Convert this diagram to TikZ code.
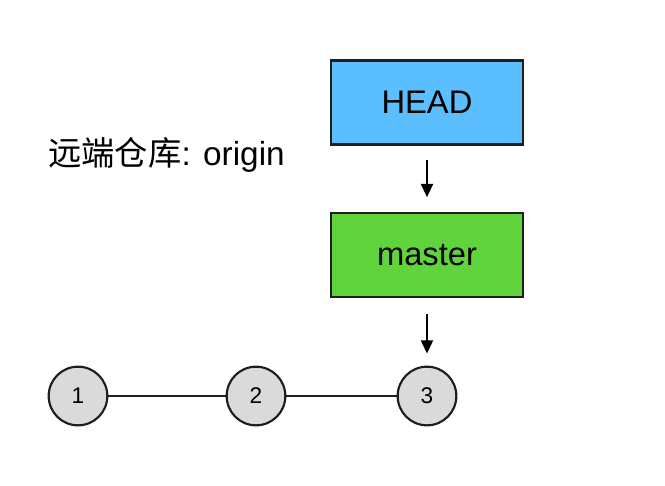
\documentclass[tikz,border=0pt]{standalone}
\usepackage{fontspec}
\setmainfont{Liberation Sans}
\newfontfamily\cjk{Noto Sans CJK SC}
\usepackage{xcolor}
\usepackage{tikz}
\usetikzlibrary{positioning,arrows.meta}
\definecolor{HeadBlue}{RGB}{90,190,255}
\definecolor{BranchGreen}{RGB}{96,212,60}
\definecolor{CommitGray}{RGB}{218,218,218}
\definecolor{EdgeDark}{RGB}{30,30,30}

\begin{document}
\begin{tikzpicture}[
    x=0.75pt, y=-0.75pt,
    pointer/.style={-{Stealth[length=10pt,width=9pt,inset=0pt]}, line width=1.6pt, draw=black},
    history/.style={line width=1.3pt, draw=EdgeDark},
    refbox/.style={
        draw=EdgeDark,
        line width=1.7pt,
        inner sep=0pt,
        minimum width=144pt,
        minimum height=63pt,
        font=\fontsize{24.5}{28}\selectfont
    },
    headbox/.style={refbox, fill=HeadBlue},
    branchbox/.style={refbox, fill=BranchGreen},
    commit/.style={
        circle,
        draw=EdgeDark,
        line width=1.6pt,
        fill=CommitGray,
        inner sep=0pt,
        minimum size=44pt,
        font=\fontsize{17}{20}\selectfont
    }
]

% Canvas with the margins of the reference.
\useasboundingbox (0,0) rectangle (665,486);

% Repository label on the left.
\node[anchor=west, inner sep=0pt, font=\fontsize{25}{29}\selectfont] (remote) at (48,155) {{\cjk 远端仓库}: origin};

% HEAD pointer and the branch it refers to.
\node[headbox] (head) at (427,102.5) {HEAD};
\node[branchbox] (master) at (427,255) {master};

% Commit history.
\node[commit] (c1) at (78,396) {1};
\node[commit] (c2) at (256,396) {2};
\node[commit] (c3) at (427,396) {3};

% Links between commits.
\draw[history] (c1) -- (c2);
\draw[history] (c2) -- (c3);

% Reference arrows.
\draw[pointer, shorten <=11pt, shorten >=11pt] (head) -- (master);
\draw[pointer, shorten <=12pt, shorten >=9pt] (master) -- (c3);

\end{tikzpicture}
\end{document}
